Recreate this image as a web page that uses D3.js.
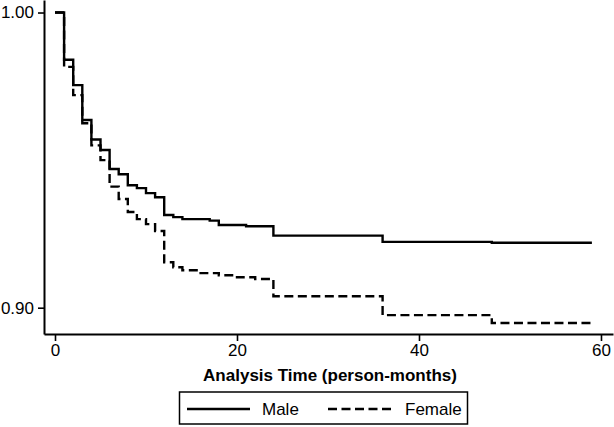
<!DOCTYPE html>
<html>
<head>
<meta charset="utf-8">
<script src="https://cdn.jsdelivr.net/npm/d3@7"></script>
<style>
html,body{margin:0;padding:0;background:#fff;}
svg{display:block;font-family:"Liberation Sans",Arial,Helvetica,sans-serif;}
</style>
</head>
<body>
<svg id="chart" width="614" height="427"></svg>
<script>
const maleTimes = [0,1,2,3,4,5,6,7,8,9,10,11,12,13,14,17,18,21,24,36,48,59];
const maleSurv  = [1.0,0.984,0.9754,0.9636,0.957,0.9534,0.947,0.9452,0.9415,0.9405,0.9388,0.9374,0.9314,0.9307,0.930,0.9295,0.928,0.9276,0.9244,0.9223,0.922,0.922];
const femaleTimes = [0,1,2,3,4,5,6,7,8,9,10,11,12,13,14,16,18,20,22,24,36,48,59];
const femaleSurv  = [1.0,0.9816,0.972,0.9625,0.955,0.950,0.941,0.9368,0.9324,0.930,0.9283,0.926,0.9154,0.9137,0.9127,0.9117,0.911,0.9103,0.9097,0.9039,0.8975,0.8948,0.8948];
const xTicks = [0,20,40,60];
const yTicks = [0.90,1.00];
const xTitle = "Analysis Time (person-months)";
const legendLabels = ["Male","Female"];

const svg = d3.select("#chart");
const x = d3.scaleLinear().domain([-1.209, 61.32]).range([44, 613]);
const y = d3.scaleLinear().domain([0.89109, 1.00424]).range([334, 0]);

// axes
const xAxis = d3.axisBottom(x).tickValues(xTicks).tickFormat(d3.format("d")).tickSizeOuter(0).tickSizeInner(7).tickPadding(3);
const yAxis = d3.axisLeft(y).tickValues(yTicks).tickFormat(d3.format(".2f")).tickSizeOuter(0).tickSizeInner(6).tickPadding(4);

const gx = svg.append("g").attr("transform","translate(0,334)").call(xAxis);
const gy = svg.append("g").attr("transform","translate(44,0)").call(yAxis);
[gx,gy].forEach(g=>{
  g.select(".domain").attr("stroke","#000").attr("stroke-width",2);
  g.selectAll(".tick line").attr("stroke","#000").attr("stroke-width",1.6);
  g.selectAll(".tick text").attr("fill","#000").style("font-size","17px").style("font-family","'Liberation Sans',Arial,sans-serif");
});

// curves
const line = d3.line().curve(d3.curveStepAfter).x(d=>x(d[0])).y(d=>y(d[1]));
const maleData = maleTimes.map((t,i)=>[t,maleSurv[i]]);
const femaleData = femaleTimes.map((t,i)=>[t,femaleSurv[i]]);

svg.append("path").datum(femaleData).attr("d",line)
  .attr("fill","none").attr("stroke","#000").attr("stroke-width",2.4)
  .attr("stroke-dasharray","9,4.5");
svg.append("path").datum(maleData).attr("d",line)
  .attr("fill","none").attr("stroke","#000").attr("stroke-width",2.4);

// x title
svg.append("text").attr("x",330).attr("y",381).attr("text-anchor","middle")
  .style("font-size","17px").style("font-weight","bold").attr("fill","#000").text(xTitle);

// legend
const lg = svg.append("g");
lg.append("rect").attr("x",179.5).attr("y",392).attr("width",288).attr("height",32)
  .attr("fill","#fff").attr("stroke","#000").attr("stroke-width",1.5);
lg.append("line").attr("x1",187).attr("x2",250).attr("y1",409).attr("y2",409)
  .attr("stroke","#000").attr("stroke-width",2.4);
lg.append("text").attr("x",262).attr("y",415).style("font-size","17px").attr("fill","#000").text(legendLabels[0]);
lg.append("line").attr("x1",328).attr("x2",393).attr("y1",409).attr("y2",409)
  .attr("stroke","#000").attr("stroke-width",2.4).attr("stroke-dasharray","9,4.5");
lg.append("text").attr("x",405).attr("y",415).style("font-size","17px").attr("fill","#000").text(legendLabels[1]);
</script>
</body>
</html>
